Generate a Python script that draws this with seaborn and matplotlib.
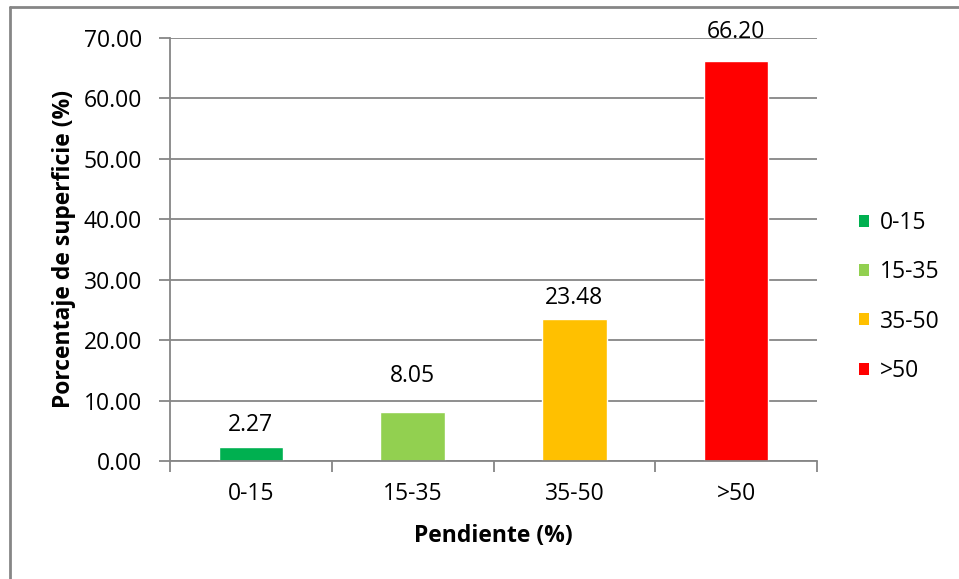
import matplotlib
matplotlib.use("Agg")
import matplotlib.pyplot as plt
import seaborn as sns
import pandas as pd
from matplotlib.lines import Line2D
from matplotlib.patches import Patch

categories = ["0-15", "15-35", "35-50", ">50"]
values = [2.27, 8.05, 23.48, 66.20]
colors = ["#00B050", "#92D050", "#FFC000", "#FF0000"]
yticks = [0, 10, 20, 30, 40, 50, 60, 70]

sns.set_theme(style="white")
plt.rcParams["font.family"] = ["Open Sans", "DejaVu Sans"]
plt.rcParams["text.color"] = "black"
plt.rcParams["xtick.color"] = "black"
plt.rcParams["ytick.color"] = "black"
plt.rcParams["axes.labelcolor"] = "black"

FS = 16.5
W, H = 959, 579
fig = plt.figure(figsize=(W / 100, H / 100), dpi=100)
ax = fig.add_axes([170 / W, 1 - 461 / H, (817 - 170) / W, (461 - 38) / H])

df = pd.DataFrame({"cat": categories, "val": values})
sns.barplot(data=df, x="cat", y="val", hue="cat", palette=colors, width=0.4,
            ax=ax, legend=False, saturation=1)

gray = "#868686"
ax.set_ylim(0, 70)
ax.set_xlim(-0.5, 3.5)
ax.set_yticks(yticks)
ax.set_yticklabels([f"{v:.2f}" for v in yticks], fontsize=FS)
ax.yaxis.grid(True, color=gray, linewidth=1.3)
ax.set_axisbelow(True)
for s in ["top", "right"]:
    ax.spines[s].set_visible(False)
for s in ["left", "bottom"]:
    ax.spines[s].set_color(gray)
    ax.spines[s].set_linewidth(1.3)

ax.set_xticks(range(4))
ax.set_xticklabels(categories, fontsize=FS)
ax.tick_params(axis="x", length=0, pad=15)
ax.tick_params(axis="y", length=8, color=gray, width=1.3, direction="out", pad=12, left=True)
ax.set_xticks([-0.5, 0.5, 1.5, 2.5, 3.5], minor=True)
ax.tick_params(axis="x", which="minor", length=8, color=gray, width=1.3, direction="out", bottom=True)

# gap (points) between bar top and label baseline, as in the reference
label_gaps = [11.5, 21.5, 10.8, 16.5]
for i, v in enumerate(values):
    ax.annotate(f"{v:.2f}", (i, v), xytext=(0, label_gaps[i]), textcoords="offset points",
                ha="center", va="baseline", fontsize=FS, color="black")

ax.set_ylabel("Porcentaje de superficie (%)", fontsize=FS, fontweight="bold")
ax.set_xlabel("Pendiente (%)", fontsize=FS, fontweight="bold")
ax.yaxis.set_label_coords((76 - 170) / (817 - 170), 0.5)
ax.xaxis.set_label_coords(0.5, -(524 - 461) / (461 - 38))

handles = [Patch(facecolor=c, edgecolor="none") for c in colors]
leg = fig.legend(handles, categories, loc="center left",
                 bbox_to_anchor=(859 / W, 1 - 297 / H), frameon=False,
                 fontsize=FS, handlelength=0.42, handleheight=0.42,
                 handletextpad=0.5, labelspacing=1.1, borderaxespad=0, borderpad=0)

fig.add_artist(Line2D([10 / W, 10 / W], [0, 1 - 7 / H], color=gray, linewidth=2,
                      transform=fig.transFigure))
fig.add_artist(Line2D([10 / W, 1], [1 - 7 / H, 1 - 7 / H], color=gray, linewidth=2,
                      transform=fig.transFigure))

fig.savefig("out.png", dpi=100)
